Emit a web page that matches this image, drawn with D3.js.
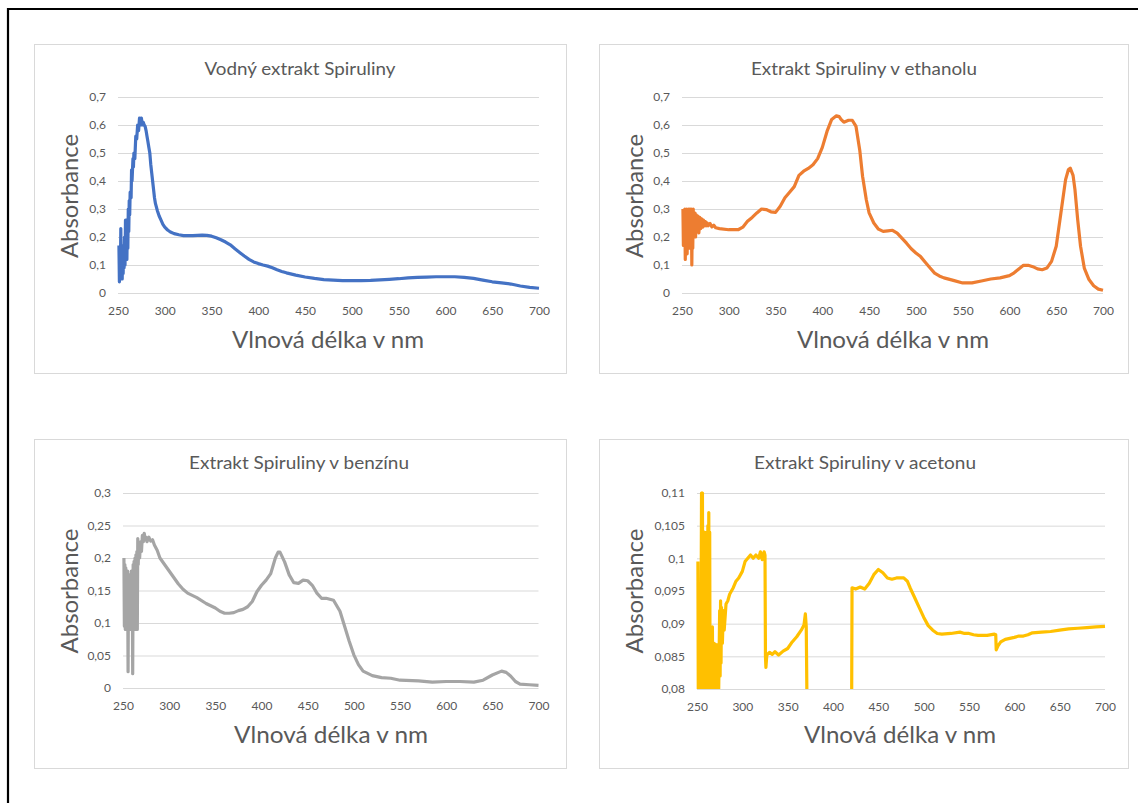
<!DOCTYPE html>
<html>
<head>
<meta charset="utf-8">
<script src="https://cdn.jsdelivr.net/npm/d3@7"></script>
<style>
  html, body { margin: 0; padding: 0; background: #fff; }
  svg { display: block; }
  text { font-family: Lato, "Open Sans", "Noto Sans", sans-serif; fill: #595959; }
</style>
</head>
<body>
<script>
// ---------------- DATA ----------------
const xTicks = [250, 300, 350, 400, 450, 500, 550, 600, 650, 700];
const yTicksWide = [0, 0.1, 0.2, 0.3, 0.4, 0.5, 0.6, 0.7];
const yTicksBenzin = [0, 0.05, 0.1, 0.15, 0.2, 0.25, 0.3];
const yTicksAceton = [0.08, 0.085, 0.09, 0.095, 0.1, 0.105, 0.11];

const titles = [
  "Vodný extrakt Spiruliny",
  "Extrakt Spiruliny v ethanolu",
  "Extrakt Spiruliny v benzínu",
  "Extrakt Spiruliny v acetonu"
];
const xAxisTitle = "Vlnová délka v nm";
const yAxisTitle = "Absorbance";

// [wavelength nm, absorbance]
const waterSeries = [
  [251,0.17],[251.5,0.04],[252,0.15],[252.5,0.06],[253,0.23],[253.5,0.08],[254,0.17],[254.5,0.05],
  [255,0.16],[255.5,0.07],[256,0.14],[256.5,0.09],[257,0.2],[257.5,0.1],[258,0.26],[258.5,0.14],
  [259,0.26],[259.5,0.12],[260,0.25],[260.5,0.16],[261,0.3],[261.5,0.22],[262,0.33],[262.5,0.28],
  [263,0.36],[264,0.34],[264.5,0.44],[265,0.4],[266,0.48],[266.5,0.45],[267,0.5],[268,0.48],
  [269,0.56],[270,0.55],[271,0.6],[272,0.58],[273,0.625],[274,0.6],[275,0.625],[276,0.6],
  [277,0.61],[278,0.6],[279,0.595],[280,0.58],[281,0.56],[282,0.54],[283,0.52],[284,0.5],
  [285,0.46],[286,0.43],[287,0.4],[288,0.37],[289,0.34],[290,0.32],[292,0.295],[294,0.275],
  [296,0.26],[298,0.245],[300,0.235],[303,0.225],[306,0.218],[310,0.212],[315,0.208],[320,0.205],
  [330,0.205],[340,0.207],[345,0.206],[350,0.203],[355,0.197],[360,0.19],[365,0.182],[370,0.172],
  [375,0.158],[380,0.145],[385,0.132],[390,0.12],[395,0.111],[400,0.105],[405,0.1],[410,0.096],
  [415,0.09],[420,0.083],[425,0.077],[430,0.072],[440,0.064],[450,0.057],[460,0.052],[470,0.048],
  [480,0.046],[490,0.044],[500,0.044],[510,0.044],[520,0.045],[530,0.047],[540,0.049],[550,0.051],
  [560,0.054],[570,0.056],[580,0.057],[590,0.058],[600,0.058],[610,0.058],[620,0.056],[630,0.052],
  [640,0.046],[650,0.04],[660,0.036],[670,0.032],[680,0.025],[690,0.02],[700,0.017]
];

const ethanolSeries = [
  [251,0.3],[251.5,0.17],[252,0.29],[252.5,0.18],[253,0.3],[253.5,0.12],[254,0.28],[254.5,0.17],
  [255,0.3],[255.5,0.14],[256,0.29],[256.5,0.18],[257,0.3],[257.5,0.2],[258,0.3],[258.5,0.16],
  [259,0.3],[259.5,0.2],[260,0.3],[260.5,0.1],[261,0.29],[261.5,0.16],[262,0.3],[262.5,0.2],
  [263,0.28],[263.5,0.22],[264,0.285],[264.5,0.2],[265,0.28],[266,0.23],[267,0.275],[268,0.215],
  [269,0.27],[270,0.23],[271,0.265],[272,0.235],[273,0.26],[274,0.24],[275,0.255],[276,0.24],
  [277,0.25],[278,0.24],[280,0.248],[282,0.236],[284,0.242],[286,0.233],[290,0.23],[300,0.226],
  [310,0.226],[315,0.235],[320,0.256],[325,0.27],[330,0.286],[335,0.3],[340,0.298],[345,0.29],
  [350,0.288],[355,0.31],[360,0.34],[365,0.36],[370,0.38],[375,0.42],[380,0.435],[385,0.445],
  [390,0.458],[395,0.48],[400,0.52],[405,0.577],[410,0.62],[415,0.633],[418,0.63],[420,0.62],
  [423,0.61],[428,0.617],[432,0.617],[436,0.595],[440,0.51],[443,0.417],[447,0.333],[450,0.286],
  [455,0.25],[460,0.228],[465,0.22],[470,0.222],[475,0.224],[480,0.214],[485,0.196],[490,0.178],
  [495,0.158],[500,0.143],[505,0.13],[510,0.11],[515,0.09],[520,0.071],[525,0.061],[530,0.054],
  [540,0.045],[550,0.036],[560,0.036],[570,0.043],[580,0.05],[590,0.054],[600,0.062],[605,0.072],
  [610,0.086],[615,0.099],[620,0.099],[625,0.094],[630,0.086],[635,0.083],[640,0.089],[645,0.113],
  [650,0.167],[655,0.286],[660,0.405],[663,0.44],[665,0.446],[668,0.42],[670,0.37],[673,0.26],
  [676,0.167],[680,0.089],[685,0.048],[690,0.026],[695,0.014],[700,0.01]
];

const benzinSeries = [
  [251,0.2],[251.5,0.095],[252,0.19],[252.5,0.09],[253,0.185],[253.5,0.1],[254,0.17],[254.5,0.095],
  [255,0.18],[255.5,0.025],[256,0.175],[256.5,0.09],[257,0.17],[257.5,0.1],[258,0.175],[258.5,0.09],
  [259,0.18],[259.5,0.095],[260,0.17],[260.5,0.022],[261,0.19],[261.5,0.09],[262,0.195],[262.5,0.1],
  [263,0.2],[263.5,0.09],[264,0.205],[264.5,0.1],[265,0.21],[265.5,0.09],[266,0.23],[266.5,0.19],
  [267,0.22],[268,0.2],[269,0.225],[270,0.21],[271,0.235],[272,0.225],[273,0.238],[274,0.228],
  [275,0.232],[276,0.225],[278,0.232],[280,0.226],[282,0.228],[284,0.22],[287,0.212],[290,0.2],
  [295,0.19],[300,0.18],[305,0.17],[310,0.16],[315,0.152],[320,0.146],[330,0.139],[340,0.13],
  [350,0.123],[355,0.118],[360,0.115],[365,0.115],[370,0.116],[375,0.119],[380,0.121],[385,0.125],
  [390,0.133],[395,0.148],[400,0.158],[405,0.166],[410,0.176],[415,0.2],[418,0.209],[420,0.209],
  [425,0.194],[430,0.174],[435,0.162],[440,0.161],[445,0.166],[450,0.165],[455,0.158],[460,0.146],
  [465,0.138],[470,0.138],[478,0.135],[485,0.118],[490,0.095],[495,0.072],[500,0.051],[505,0.036],
  [510,0.026],[520,0.019],[530,0.016],[540,0.015],[550,0.012],[570,0.011],[585,0.009],[600,0.01],
  [615,0.01],[630,0.009],[640,0.012],[650,0.02],[660,0.026],[665,0.024],[670,0.018],[675,0.01],
  [680,0.006],[690,0.005],[700,0.004]
];

const acetonSeries = [
  [251,0.0995],[251.5,0.075],[252,0.0885],[252.5,0.075],[254,0.075],[255,0.11],[255.5,0.075],
  [256,0.11],[256.5,0.075],[257,0.1035],[257.5,0.075],[258,0.104],[258.5,0.075],[259,0.1035],
  [259.5,0.087],[260,0.1],[260.5,0.075],[261,0.104],[261.5,0.09],[262,0.105],[262.5,0.075],
  [263,0.107],[263.5,0.075],[264,0.104],[264.5,0.075],[266,0.075],[267,0.0895],[267.5,0.075],
  [269,0.087],[269.5,0.075],[271,0.0868],[271.5,0.075],[273,0.0868],[273.5,0.075],[275,0.092],
  [275.5,0.082],[276,0.0935],[276.5,0.084],[277,0.0925],[278,0.087],[279,0.092],[280,0.089],
  [282,0.093],[284,0.0935],[286,0.0945],[288,0.095],[290,0.0955],[293,0.0965],[296,0.097],
  [300,0.098],[303,0.0995],[306,0.1],[309,0.1005],[312,0.1],[315,0.1005],[318,0.1],[320,0.101],
  [322,0.0998],[324,0.101],[325,0.1005],[325.5,0.085],[326,0.0833],[327,0.0852],[330,0.0856],
  [333,0.0853],[336,0.0857],[340,0.0852],[345,0.0858],[350,0.0862],[355,0.0872],[360,0.088],
  [365,0.089],[368,0.0898],[369.5,0.0915],[370.5,0.0895],[371.5,0.075],[380,0.07],[400,0.07],
  [420.5,0.075],[421,0.0955],[425,0.0953],[430,0.0956],[435,0.0953],[440,0.0962],[445,0.0975],
  [450,0.0983],[455,0.0978],[460,0.097],[465,0.0968],[470,0.097],[478,0.097],[482,0.0965],
  [485,0.0955],[490,0.094],[495,0.0925],[500,0.091],[505,0.0897],[510,0.089],[515,0.0885],
  [520,0.0884],[530,0.0885],[540,0.0887],[545,0.0885],[550,0.0885],[555,0.0883],[560,0.0882],
  [570,0.0882],[578,0.0884],[579.5,0.0883],[580,0.086],[582,0.0866],[585,0.0872],[590,0.0876],
  [600,0.0879],[605,0.0881],[610,0.0881],[615,0.0883],[620,0.0886],[630,0.0887],[640,0.0888],
  [650,0.089],[660,0.0892],[670,0.0893],[680,0.0894],[690,0.0895],[700,0.0896]
];

// ---------------- LAYOUT ----------------
const W = 1138, H = 803;
const panels = [
  { series: waterSeries, color: "#4472C4", title: titles[0], yTicks: yTicksWide, yDomain: [0, 0.7],
    box: [34, 44, 566, 373], plot: [118, 97, 539, 293], titleX: 300, titleY: 75, titleW: 191,
    axTX: 328, axTY: 348, axTW: 192, absX: 78, absY: 196, absW: 124 },
  { series: ethanolSeries, color: "#ED7D31", title: titles[1], yTicks: yTicksWide, yDomain: [0, 0.7],
    box: [599, 44, 1128, 373], plot: [682, 97, 1103, 293], titleX: 864, titleY: 75, titleW: 226,
    axTX: 893, axTY: 348, axTW: 192, absX: 643, absY: 196, absW: 124 },
  { series: benzinSeries, color: "#A5A5A5", title: titles[2], yTicks: yTicksBenzin, yDomain: [0, 0.3],
    box: [34, 439, 566, 768], plot: [123, 493, 538.5, 688], titleX: 299, titleY: 469, titleW: 220,
    axTX: 331, axTY: 743, axTW: 194, absX: 78, absY: 591, absW: 125 },
  { series: acetonSeries, color: "#FFC000", title: titles[3], yTicks: yTicksAceton, yDomain: [0.08, 0.11],
    box: [599, 439, 1128, 768], plot: [697, 493, 1105, 689], titleX: 865, titleY: 469, titleW: 222,
    axTX: 900, axTY: 743, axTW: 192, absX: 643, absY: 591, absW: 125 }
];

const fmt = d3.formatLocale({ decimal: ",", thousands: " ", grouping: [3], currency: ["", ""] }).format(".3~f");

const svg = d3.select("body").append("svg").attr("width", W).attr("height", H);
svg.append("rect").attr("width", W).attr("height", H).attr("fill", "#fff");

// outer black frame (runs off right/bottom)
svg.append("path").attr("d", `M8,${H + 5} V9 H${W + 5}`)
  .attr("fill", "none").attr("stroke", "#000").attr("stroke-width", 2.2);

panels.forEach((p, i) => {
  const g = svg.append("g");
  const [bx0, by0, bx1, by1] = p.box;
  g.append("rect").attr("x", bx0 + 0.5).attr("y", by0 + 0.5)
    .attr("width", bx1 - bx0).attr("height", by1 - by0)
    .attr("fill", "#fff").attr("stroke", "#d9d9d9").attr("stroke-width", 1);

  const [L, T, R, B] = p.plot;
  const x = d3.scaleLinear().domain([250, 700]).range([L, R]);
  const y = d3.scaleLinear().domain(p.yDomain).range([B, T]);

  // gridlines
  const grid = g.append("g").attr("transform", `translate(${L},0)`)
    .call(d3.axisLeft(y).tickValues(p.yTicks).tickSize(-(R - L)).tickFormat(""));
  grid.select(".domain").remove();
  grid.selectAll("line").attr("stroke", "#d9d9d9").attr("stroke-width", 1);

  // y tick labels
  const ya = g.append("g").attr("transform", `translate(${L - 12},0)`)
    .call(d3.axisLeft(y).tickValues(p.yTicks).tickSize(0).tickPadding(0).tickFormat(fmt));
  ya.select(".domain").remove();
  ya.selectAll("text").attr("font-size", 12).attr("fill", "#595959")
    .style("font-family", "Lato, 'Open Sans', sans-serif");

  // x tick labels
  const xa = g.append("g").attr("transform", `translate(0,${B + 13})`)
    .call(d3.axisBottom(x).tickValues(xTicks).tickSize(0).tickPadding(0).tickFormat(d3.format("d")));
  xa.select(".domain").remove();
  xa.selectAll("text").attr("font-size", 12).attr("fill", "#595959")
    .style("font-family", "Lato, 'Open Sans', sans-serif");

  // clip
  const clipId = "clip" + i;
  g.append("clipPath").attr("id", clipId).append("rect")
    .attr("x", L - 3).attr("y", T - 3).attr("width", R - L + 6).attr("height", B - T + 3);

  const line = d3.line().x(d => x(d[0])).y(d => y(d[1]));
  g.append("path").datum(p.series)
    .attr("clip-path", `url(#${clipId})`)
    .attr("d", line).attr("fill", "none").attr("stroke", p.color)
    .attr("stroke-width", 3.2).attr("stroke-linejoin", "round").attr("stroke-linecap", "butt");

  // chart title
  g.append("text").attr("x", p.titleX).attr("y", p.titleY).attr("text-anchor", "middle")
    .attr("font-size", 18).attr("textLength", p.titleW).attr("lengthAdjust", "spacingAndGlyphs")
    .text(p.title);

  // x axis title
  g.append("text").attr("x", p.axTX).attr("y", p.axTY).attr("text-anchor", "middle")
    .attr("font-size", 23).attr("textLength", p.axTW).attr("lengthAdjust", "spacingAndGlyphs")
    .text(xAxisTitle);

  // y axis title
  g.append("text").attr("transform", `translate(${p.absX},${p.absY}) rotate(-90)`)
    .attr("text-anchor", "middle").attr("font-size", 23)
    .attr("textLength", p.absW).attr("lengthAdjust", "spacingAndGlyphs")
    .text(yAxisTitle);
});
</script>
</body>
</html>
